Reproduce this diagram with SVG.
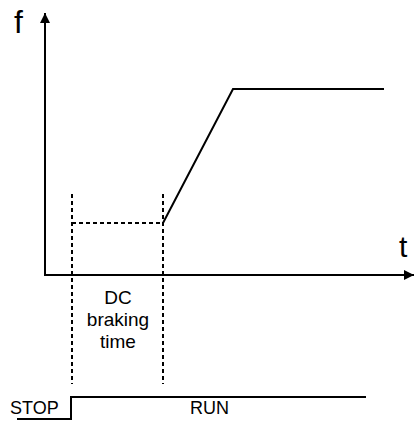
<svg xmlns="http://www.w3.org/2000/svg" width="414" height="421" viewBox="0 0 414 421">
<style>
.ln{stroke:#000;stroke-width:2;fill:none}
.dash{stroke:#000;stroke-width:2;fill:none;stroke-dasharray:4 3}
.t{font-family:"Liberation Sans",Arial,sans-serif;fill:#000}
</style>
<defs>
<marker id="ah" viewBox="0 0 10 10" refX="10" refY="5" markerWidth="13" markerHeight="10" markerUnits="userSpaceOnUse" orient="auto">
<path d="M0,0 L10,5 L0,10 z" fill="#000"/>
</marker>
</defs>
<rect width="414" height="421" fill="#fff"/>
<g id="axes">
<line class="ln" x1="45" y1="276" x2="45" y2="13" marker-end="url(#ah)"/>
<line class="ln" x1="44" y1="275" x2="414" y2="275" marker-end="url(#ah)"/>
<text class="t" x="14" y="33" font-size="32">f</text>
<text class="t" x="399" y="257" font-size="30">t</text>
</g>
<g id="curve">
<polyline class="ln" points="163,223 233,89 384,89"/>
</g>
<g id="connectors">
<line class="dash" x1="72" y1="194" x2="72" y2="384"/>
<line class="dash" x1="163" y1="194" x2="163" y2="384"/>
<line class="dash" x1="72" y1="223" x2="163" y2="223"/>
</g>
<g id="label">
<text class="t" font-size="19" text-anchor="middle" x="118" y="304">DC</text>
<text class="t" font-size="19" text-anchor="middle" x="118" y="326">braking</text>
<text class="t" font-size="19" text-anchor="middle" x="118" y="348">time</text>
</g>
<g id="signal">
<polyline class="ln" points="17,419 71,419 71,397 366,397"/>
<text class="t" font-size="18" x="10" y="414">STOP</text>
<text class="t" font-size="18" x="190" y="414">RUN</text>
</g>
</svg>
